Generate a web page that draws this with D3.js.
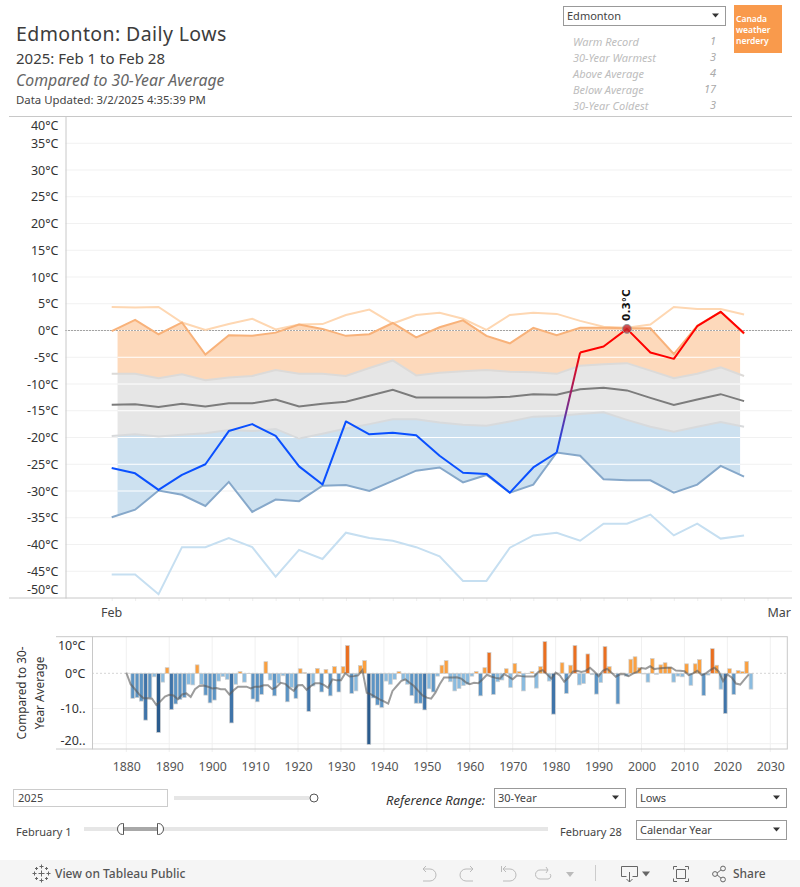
<!DOCTYPE html>
<meta charset="utf-8">
<head>
  <title>Edmonton: Daily Lows</title>
  <style>
    body { margin: 0; background: #fff; }
    text { font-family: "Noto Sans", sans-serif; }
  </style>
</head>
<script src="https://d3js.org/d3.v7.min.js"></script>
<svg id="chart" width="800" height="887"></svg>

<script>
// daily lows, Feb 1 to Feb 28 (deg C)
var days = d3.range(1, 29)
var recordHigh = [4.4,4.3,4.4,1.5,0.1,1.2,2.2,0.2,1.1,1.2,2.9,3.9,1.3,2.9,3.3,2.2,0.1,2.9,3.3,3.1,1.8,0.7,0.5,1.1,4.4,4.0,4.0,3.0]
var warmest = [-0.1,2.0,-0.7,1.5,-4.5,-0.9,-1.0,-0.4,1.1,0.3,-1.0,-0.7,1.4,-1.3,0.6,1.9,-1.0,-2.4,0.5,-0.9,0.5,0.5,0.4,0.4,-4.4,0.9,3.5,-0.6]
var upperBand = [-8.1,-8.1,-8.9,-8.2,-9.3,-8.8,-8.5,-7.4,-8.1,-8.1,-8.5,-7.0,-5.6,-8.4,-7.9,-7.6,-7.4,-7.7,-7.8,-8.1,-6.6,-6.3,-6.1,-7.5,-8.9,-8.1,-6.9,-8.5]
var normal = [-13.9,-13.8,-14.3,-13.7,-14.2,-13.6,-13.6,-12.9,-14.2,-13.7,-13.3,-12.2,-11.1,-12.5,-12.5,-12.5,-12.5,-12.4,-11.9,-12.0,-11.0,-10.7,-11.2,-12.6,-13.9,-12.9,-11.9,-13.2]
var lowerBand = [-19.7,-19.4,-19.8,-19.5,-19.2,-18.6,-18.8,-18.4,-20.2,-19.3,-18.3,-17.5,-16.6,-16.6,-17.2,-17.6,-17.8,-17.0,-16.1,-16.0,-15.6,-15.3,-16.7,-18.0,-18.9,-18.0,-17.1,-18.0]
var coldest = [-34.9,-33.5,-29.9,-30.7,-32.8,-28.3,-33.9,-31.6,-31.9,-29.0,-28.9,-30.0,-28.1,-26.2,-25.6,-28.4,-27.0,-30.3,-28.8,-22.8,-23.4,-27.8,-28.0,-28.0,-30.3,-28.8,-25.3,-27.3]
var recordLow = [-45.6,-45.6,-49.3,-40.5,-40.5,-38.8,-40.5,-46.0,-41.0,-42.7,-37.8,-38.8,-39.3,-40.5,-42.2,-46.8,-46.8,-40.6,-38.3,-37.8,-39.3,-36.1,-36.1,-34.4,-38.3,-36.1,-38.9,-38.3]
var actual = [-25.7,-26.7,-29.8,-27.0,-25.0,-18.8,-17.5,-19.7,-25.4,-28.8,-17.0,-19.4,-19.1,-19.6,-23.4,-26.6,-26.8,-30.3,-25.6,-22.8,-4.1,-3.0,0.3,-4.1,-5.3,0.8,3.5,-0.5]
var yTicks = [40,35,30,25,20,15,10,5,0,-5,-10,-15,-20,-25,-30,-35,-40,-45,-50]

// yearly difference from 30-year average, 1881 to 2025
var barYears = d3.range(1881, 2026)
var anomalies = [
  -7.1,-6.9,-7.9,-13.3,-7.0,-1.0,-16.8,-2.5,1.6,-10.3,
  -8.7,-7.4,-6.9,-3.1,-3.3,2.4,-3.2,-6.2,-8.4,-7.6,
  -2.2,-0.9,-1.7,-14.1,-3.1,0.5,-2.5,-0.1,-7.3,-8.1,
  -6.0,3.3,-1.9,-6.4,-2.8,-0.7,-8.1,-4.0,-7.1,1.3,
  0.2,-10.8,-3.6,1.4,-5.3,1.1,-6.4,1.9,-5.3,1.9,
  7.9,-5.7,-5.0,2.2,3.6,-20.2,-7.0,-9.0,-9.7,-2.2,
  -3.1,-1.7,0.5,-1.9,-3.1,-6.3,-8.5,-8.5,-10.4,-4.4,
  -5.3,-0.8,2.3,3.6,-2.4,-5.0,-4.3,-3.5,-3.1,-0.8,
  0.5,-6.4,1.6,5.9,-6.0,-2.4,-1.9,1.3,-4.0,2.8,
  0.5,-5.0,-0.1,0.5,-4.2,1.9,9.0,-2.2,-11.6,0.1,
  3.0,-5.7,2.3,7.9,-3.3,-2.9,5.5,-0.4,-5.9,-2.6,
  7.6,1.9,-0.1,-8.7,0.1,-0.8,4.0,4.7,1.6,-0.2,
  -2.5,4.2,-0.3,2.4,3.0,1.8,-2.5,-0.8,-1.0,2.7,
  -3.4,2.7,3.9,-6.3,-0.5,7.0,2.3,-4.5,-11.4,1.3,
  -6.0,0.8,0.5,3.4,-4.5]
// smoothed line, 1880 to 2025
var trendYears = d3.range(1880, 2026)
var trend = [0.2,
  -3.1,-4.5,-6,-7.1,-7.1,-7.2,-9,-7.9,-6.6,-6.1,
  -6.3,-7.4,-6,-5.7,-6.7,-4.5,-3.6,-3.5,-3.8,-4.3,
  -4.2,-4.5,-4.5,-6,-4.8,-3.8,-3.8,-3.8,-4.3,-3.8,
  -3.8,-3.4,-3.4,-4.5,-3.9,-2.7,-3,-4.1,-5,-3.4,
  -3.3,-4.7,-3.6,-2.8,-2.8,-3.3,-4.1,-1.7,-2,-2,
  0,-0.9,-0.8,-0.6,0.9,-5.5,-6,-6.7,-7.4,-8,
  -8.6,-5,-3.6,-2.2,-1.7,-2.7,-3.6,-5,-6.3,-6.9,
  -7.2,-5.5,-3.1,-1.2,-1.2,-1.2,-1.1,-1.5,-2.5,-3.1,
  -2.7,-2.8,-1.7,-0.4,-0.9,-1.3,-1.5,-0.2,-0.9,-1.7,
  -0.6,-0.8,-0.9,-0.9,-0.9,0.4,0.9,-0.3,-1.5,0.2,
  -0.6,-2.4,-1.2,0.5,0.7,0.4,0.7,1.6,0.5,-0.8,
  0.7,1.3,0.2,-1,-0.3,-0.3,-0.8,-0.1,0.4,1.5,
  1.3,2,1.2,1.4,1.5,1.6,1.6,0.8,0.7,0.6,
  -0.5,0,0.7,-0.5,0,0.9,1.6,0.5,-2.2,-0.3,
  -1.2,-2.9,-3.2,-1.7,-0.3]
var barTicks = [10,0,-10,-20]
var barTickLabels = ["10°C","0°C","-10..","-20.."]
var decades = d3.range(1880, 2040, 10)

var statNames = ["Warm Record","30-Year Warmest","Above Average","Below Average","30-Year Coldest"]
var statCounts = [1,3,4,17,3]

var svg = d3.select("svg")
var defs = svg.append("defs")

// ---- main chart ----
var mainTop = 116.5, mainBottom = 598, mainLeft = 65.5, mainRight = 792
var x = d3.scaleLinear().domain([1, 29]).range([111.7, 767.5])
var y = d3.scaleLinear().domain([-50, 40]).range([mainBottom, mainTop])

var main = svg.append("g").attr("name", "main")

main.append("g").selectAll("line").data(yTicks.slice(1, -1)).join("line")
  .attr("x1", mainLeft).attr("x2", mainRight)
  .attr("y1", d => y(d)).attr("y2", d => y(d))
  .attr("stroke", "#f1f1f1").attr("stroke-width", 1)

defs.append("clipPath").attr("id", "fillClip").append("rect")
  .attr("x", x(1.25)).attr("width", x(27.83) - x(1.25))
  .attr("y", mainTop).attr("height", mainBottom - mainTop)

function band(top, bottom) {
  return d3.area().x(d => x(d)).y0(d => y(bottom[d - 1])).y1(d => y(top[d - 1]))(days)
}
var fills = main.append("g").attr("clip-path", "url(#fillClip)")
fills.append("path").attr("d", band(warmest, upperBand)).attr("fill", "#fdd9bb")
fills.append("path").attr("d", band(upperBand, lowerBand)).attr("fill", "#e6e6e6")
fills.append("path").attr("d", band(lowerBand, coldest)).attr("fill", "#cde1f0")

// gridlines go white where they cross the bands
defs.append("clipPath").attr("id", "bandClip").append("path").attr("d", band(warmest, coldest))
var whiteGrid = main.append("g").attr("clip-path", "url(#fillClip)")
  .append("g").attr("clip-path", "url(#bandClip)")
whiteGrid.selectAll("line").data(yTicks.slice(1, -1)).join("line")
  .attr("x1", mainLeft).attr("x2", mainRight)
  .attr("y1", d => y(d)).attr("y2", d => y(d))
  .attr("stroke", "#fff").attr("stroke-width", 1)

main.append("line")
  .attr("x1", mainLeft).attr("x2", mainRight)
  .attr("y1", y(0)).attr("y2", y(0))
  .attr("stroke", "#555").attr("stroke-width", 1).attr("stroke-dasharray", "1,2")

var line = d3.line().x((d, i) => x(days[i])).y(d => y(d))

function drawLine(values, color, width) {
  main.append("path").datum(values)
    .attr("d", line)
    .attr("fill", "none")
    .attr("stroke", color)
    .attr("stroke-width", width)
}
drawLine(recordHigh, "#fed7b2", 2)
drawLine(warmest, "#f8b27a", 2)
drawLine(upperBand, "#dcdad8", 2)
drawLine(lowerBand, "#d8dadc", 2)
drawLine(normal, "#7c7c7c", 2)
drawLine(coldest, "#86a8ca", 2)
drawLine(recordLow, "#c6dff1", 2)

// this year: blue until the crossing, red after
var crossFrom = 19, crossTo = 20
var grad = defs.append("linearGradient").attr("id", "crossGrad")
  .attr("gradientUnits", "userSpaceOnUse")
  .attr("x1", x(days[crossFrom])).attr("x2", x(days[crossTo]))
  .attr("y1", y(actual[crossFrom])).attr("y2", y(actual[crossTo]))
grad.append("stop").attr("offset", "0%").attr("stop-color", "#0a50ff")
grad.append("stop").attr("offset", "100%").attr("stop-color", "#ff0000")

function actualPart(from, to, color) {
  var pts = days.slice(from, to + 1).map(d => [x(d), y(actual[d - 1])])
  main.append("path").attr("d", d3.line()(pts))
    .attr("fill", "none").attr("stroke", color)
    .attr("stroke-width", 2).attr("stroke-linejoin", "round")
}
actualPart(0, crossFrom, "#0a50ff")
actualPart(crossFrom, crossTo, "url(#crossGrad)")
actualPart(crossTo, 27, "#ff0000")

// highlighted day
var hiDay = 23
main.append("circle")
  .attr("cx", x(hiDay)).attr("cy", y(actual[hiDay - 1])).attr("r", 4.5)
  .attr("fill", "#c0272d").attr("fill-opacity", .8)
  .attr("stroke", "#999").attr("stroke-width", 1)
main.append("text")
  .attr("transform", "translate(" + (x(hiDay) + 3.5) + "," + (y(actual[hiDay - 1]) - 8) + ") rotate(-90)")
  .attr("font-size", 10.5).attr("font-weight", "bold").attr("fill", "#111")
  .style("font-family", "'DejaVu Sans'")
  .text(actual[hiDay - 1] + "°C")

// axes
var yAxis = main.append("g")
  .attr("transform", "translate(" + mainLeft + ",0)")
  .call(d3.axisLeft(y).tickValues(yTicks).tickFormat(d => d + "°C").tickSize(0).tickPadding(7))
yAxis.select(".domain").attr("stroke", "#c8c8c8")
yAxis.selectAll("text")
  .attr("font-size", 12.5).attr("fill", "#333")
  .style("font-family", "'Noto Sans'")
  .attr("y", d => d == 40 ? 9 : d == -50 ? -9 : 0)

main.append("line").attr("x1", 9).attr("x2", mainRight).attr("y1", mainTop).attr("y2", mainTop).attr("stroke", "#c8c8c8")

var xAxis = main.append("g")
  .attr("transform", "translate(0," + mainBottom + ")")
  .call(d3.axisBottom(x).tickValues(d3.range(1, 30)).tickFormat("").tickSize(3))
xAxis.select(".domain").remove()
xAxis.selectAll("line").attr("stroke", "#eee")
main.append("line").attr("x1", 9).attr("x2", mainRight).attr("y1", mainBottom).attr("y2", mainBottom).attr("stroke", "#c8c8c8")

main.append("text").attr("x", x(1)).attr("y", 617).attr("text-anchor", "middle")
  .attr("font-size", 12.5).attr("fill", "#444").text("Feb")
main.append("text").attr("x", x(29)).attr("y", 617)
  .attr("font-size", 12.5).attr("fill", "#444").text("Mar")

// ---- yearly bars ----
var barTop = 636.7, barBottom = 749, barLeft = 92.5, barRight = 787.3, frameLeft = 56
var xYear = d3.scaleLinear().domain([1880, 2030]).range([126.3, 770.3])
var yBar = d3.scaleLinear().domain([-21.5, 10.4]).range([barBottom, barTop])
var barColor = d3.scaleThreshold()
  .domain([-15, -10, -5, 0, 5])
  .range(["#2a5b8d", "#3f74a9", "#5c94c4", "#8abbdf", "#fba03f", "#ea6f1f"])

var lower = svg.append("g").attr("name", "bars")

lower.append("g").selectAll("line").data(decades).join("line")
  .attr("x1", d => xYear(d)).attr("x2", d => xYear(d))
  .attr("y1", barTop).attr("y2", barBottom + 3)
  .attr("stroke", "#f0f0f0")
lower.append("g").selectAll("line").data([-20, -10]).join("line")
  .attr("x1", barLeft).attr("x2", barRight)
  .attr("y1", d => yBar(d)).attr("y2", d => yBar(d))
  .attr("stroke", "#f0f0f0")
lower.append("line")
  .attr("x1", barLeft).attr("x2", barRight)
  .attr("y1", yBar(0)).attr("y2", yBar(0))
  .attr("stroke", "#aaa").attr("stroke-dasharray", "1,3")

var barW = (xYear(1) - xYear(0)) * .88
lower.append("g").selectAll("rect").data(barYears).join("rect")
  .attr("x", d => xYear(d + .5) - barW / 2)
  .attr("width", barW)
  .attr("y", (d, i) => yBar(Math.max(anomalies[i], 0)))
  .attr("height", (d, i) => Math.abs(yBar(anomalies[i]) - yBar(0)))
  .attr("fill", (d, i) => barColor(anomalies[i]))
  .attr("stroke", "#cfcfcf").attr("stroke-width", .7)

lower.append("path").datum(trend)
  .attr("d", d3.line().x((d, i) => xYear(trendYears[i])).y(d => yBar(d)))
  .attr("fill", "none").attr("stroke", "#5a5a5a").attr("stroke-opacity", .6).attr("stroke-width", 2)

lower.append("rect")
  .attr("x", barLeft).attr("y", barTop)
  .attr("width", barRight - barLeft).attr("height", barBottom - barTop)
  .attr("fill", "none").attr("stroke", "#c8c8c8")
lower.append("line").attr("x1", frameLeft).attr("x2", barLeft).attr("y1", barTop).attr("y2", barTop).attr("stroke", "#c8c8c8")
lower.append("line").attr("x1", frameLeft).attr("x2", barLeft).attr("y1", barBottom).attr("y2", barBottom).attr("stroke", "#c8c8c8")

lower.append("g").selectAll("text").data(barTicks).join("text")
  .attr("x", barLeft - 7)
  .attr("y", d => Math.min(Math.max(yBar(d), barTop + 9), barBottom - 8))
  .attr("dy", ".35em").attr("text-anchor", "end")
  .attr("font-size", 12.5).attr("fill", "#333")
  .text((d, i) => barTickLabels[i])

var yearAxis = lower.append("g")
  .attr("transform", "translate(0," + (barBottom + 10) + ")")
  .call(d3.axisBottom(xYear).tickValues(decades).tickFormat(d3.format("d")).tickSize(0))
yearAxis.select(".domain").remove()
yearAxis.selectAll("text").attr("font-size", 12.3).attr("fill", "#555").style("font-family", "'Noto Sans'")

var yTitle = lower.append("text")
  .attr("transform", "translate(26,693) rotate(-90)")
  .attr("text-anchor", "middle").attr("font-size", 11.8).attr("fill", "#333")
yTitle.append("tspan").attr("x", 0).attr("dy", 0).text("Compared to 30-")
yTitle.append("tspan").attr("x", 0).attr("dy", 18).text("Year Average")

// ---- header ----
var head = svg.append("g").attr("name", "header")
head.append("text").attr("x", 16).attr("y", 41).attr("font-size", 19.5).attr("fill", "#3c3c3c")
  .attr("letter-spacing", .4).text("Edmonton: Daily Lows")
head.append("text").attr("x", 16).attr("y", 64).attr("font-size", 15).attr("fill", "#3c3c3c").text("2025: Feb 1 to Feb 28")
head.append("text").attr("x", 16).attr("y", 86).attr("font-size", 15.8).attr("font-style", "italic").attr("fill", "#666").text("Compared to 30-Year Average")
head.append("text").attr("x", 16).attr("y", 104).attr("font-size", 11.4).attr("fill", "#444").text("Data Updated: 3/2/2025 4:35:39 PM")

head.append("g").selectAll("text").data(statNames).join("text")
  .attr("x", 573).attr("y", (d, i) => 46 + i * 16)
  .attr("font-size", 11).attr("font-style", "italic").attr("fill", "#bdbdbd").text(d => d)
head.append("g").selectAll("text").data(statCounts).join("text")
  .attr("x", 716).attr("y", (d, i) => 45 + i * 16).attr("text-anchor", "end")
  .attr("font-size", 11).attr("font-style", "italic").attr("fill", "#aaa").text(d => d)

head.append("rect").attr("x", 734).attr("y", 5).attr("width", 48).attr("height", 48).attr("fill", "#f99a4c")
head.append("g").selectAll("text").data(["Canada", "weather", "nerdery"]).join("text")
  .attr("x", 736).attr("y", (d, i) => 22 + i * 11)
  .attr("font-size", 8.5).attr("font-weight", 600).attr("fill", "#fff").text(d => d)

// ---- controls ----
var ctrl = svg.append("g").attr("name", "controls")

function dropdown(x0, y0, w, h, label) {
  ctrl.append("rect").attr("x", x0 + .5).attr("y", y0 + .5).attr("width", w).attr("height", h)
    .attr("fill", "#fff").attr("stroke", "#999")
  ctrl.append("text").attr("x", x0 + 4).attr("y", y0 + h / 2 + 4)
    .attr("font-size", 11).attr("fill", "#444").text(label)
  var cx = x0 + w - 10, cy = y0 + h / 2
  ctrl.append("path").attr("d", "M" + (cx - 3) + "," + (cy - 2) + "h7l-3.5,4z").attr("fill", "#333")
}
dropdown(563, 6, 162, 19, "Edmonton")
dropdown(494, 788, 131, 19, "30-Year")
dropdown(636, 788, 150, 19, "Lows")
dropdown(636, 820, 150, 19, "Calendar Year")

ctrl.append("rect").attr("x", 13.5).attr("y", 789.5).attr("width", 154).attr("height", 17).attr("fill", "#fff").attr("stroke", "#ccc")
ctrl.append("text").attr("x", 18).attr("y", 802).attr("font-size", 11).attr("fill", "#444").text("2025")
ctrl.append("rect").attr("x", 174).attr("y", 796).attr("width", 138).attr("height", 4).attr("fill", "#e6e6e6")
ctrl.append("circle").attr("cx", 314).attr("cy", 798).attr("r", 4).attr("fill", "#fff").attr("stroke", "#555")

ctrl.append("text").attr("x", 485).attr("y", 805).attr("text-anchor", "end")
  .attr("font-size", 13).attr("font-style", "italic").attr("fill", "#333").text("Reference Range:")

ctrl.append("text").attr("x", 16).attr("y", 836).attr("font-size", 11).attr("fill", "#444").text("February 1")
ctrl.append("text").attr("x", 560).attr("y", 836).attr("font-size", 11).attr("fill", "#444").text("February 28")
ctrl.append("rect").attr("x", 84).attr("y", 827).attr("width", 464).attr("height", 4).attr("fill", "#e6e6e6")
ctrl.append("rect").attr("x", 122).attr("y", 827).attr("width", 37).attr("height", 4).attr("fill", "#a8a8a8")
ctrl.append("path").attr("d", "M123.5,823.5h-1a5,5.5 0 0 0 0,11h1z").attr("fill", "#fff").attr("stroke", "#555")
ctrl.append("path").attr("d", "M157.5,823.5h1a5,5.5 0 0 1 0,11h-1z").attr("fill", "#fff").attr("stroke", "#555")

// ---- tableau toolbar ----
var bar = svg.append("g").attr("name", "toolbar")
bar.append("rect").attr("x", 0).attr("y", 860).attr("width", 800).attr("height", 27).attr("fill", "#f5f5f5")
bar.append("text").attr("x", 55).attr("y", 878).attr("font-size", 12).attr("font-weight", 500).attr("fill", "#555").text("View on Tableau Public")

function icon(d, color) {
  bar.append("path").attr("d", d).attr("fill", "none").attr("stroke", color || "#666").attr("stroke-width", 1)
}
// tableau mark, a cluster of small crosses
function cross(cx, cy, r) {
  return "M" + (cx - r) + "," + cy + "h" + (2 * r) + "M" + cx + "," + (cy - r) + "v" + (2 * r)
}
icon(cross(41.5, 873.5, 3) + cross(41.5, 866.5, 2) + cross(41.5, 880.5, 2) + cross(34.5, 873.5, 2) + cross(48.5, 873.5, 2)
  + cross(36.5, 868.5, 1.5) + cross(46.5, 868.5, 1.5) + cross(36.5, 878.5, 1.5) + cross(46.5, 878.5, 1.5))
// undo, redo, revert, refresh
icon("M423,869h7a5,5 0 0 1 0,12h-7M423,869l3,-3M423,869l3,3", "#bbb")
icon("M473,869h-7a5,5 0 0 0 0,12h7M473,869l-3,-3M473,869l-3,3", "#bbb")
icon("M503,869h7a5,5 0 0 1 0,12h-7M501.5,866v6M503,869l3,-3M503,869l3,3", "#bbb")
icon("M548,870h-8a3,3 0 0 0 0,9h8a3,3 0 0 0 2,-5M548,870l-2,-3M548,870l-2,3", "#bbb")
bar.append("path").attr("d", "M566,872h8l-4,5z").attr("fill", "#bbb")
icon("M595.5,865v16", "#ccc")
// download, fullscreen, share
icon("M621.5,866.5h16v10h-5M626.5,876.5h-5v-10M629.5,872v10M626.5,879l3,3l3,-3")
bar.append("path").attr("d", "M642,871.5h8l-4,5z").attr("fill", "#666")
icon("M677,866.5h-3.5v3M685,866.5h3.5v3M677,881.5h-3.5v-3M685,881.5h3.5v-3M676.5,869.5h9v9h-9z")
icon("M716,874l6,-5M716,874l6,5")
bar.append("g").selectAll("circle").data([[715,874],[723,868.5],[723,879.5]]).join("circle")
  .attr("cx", d => d[0]).attr("cy", d => d[1]).attr("r", 2.4).attr("fill", "#f5f5f5").attr("stroke", "#666")
bar.append("text").attr("x", 733).attr("y", 878).attr("font-size", 12).attr("font-weight", 500).attr("fill", "#555").text("Share")
</script>
